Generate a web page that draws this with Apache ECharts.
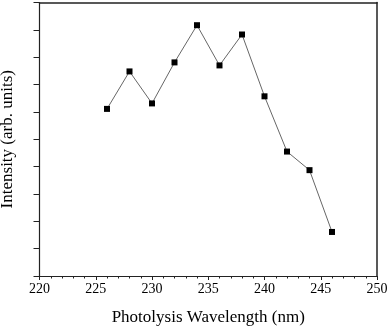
<!DOCTYPE html>
<html><head><meta charset="utf-8">
<script src="https://cdn.jsdelivr.net/npm/echarts@6/dist/echarts.min.js"></script>
<style>html,body{margin:0;padding:0;background:#fff}#c{width:390px;height:330px}</style>
</head><body><div id="c"></div>
<script>
var wavelengths = [226, 228, 230, 232, 234, 236, 238, 240, 242, 244, 246];
var intensity = [6.11, 7.48, 6.31, 7.81, 9.17, 7.70, 8.83, 6.57, 4.55, 3.87, 1.61];
var xTitle = 'Photolysis Wavelength (nm)';
var yTitle = 'Intensity (arb. units)';
var font = 'Liberation Serif';
var chart = echarts.init(document.getElementById('c'));
var frameLine = {show: true, onZero: false, lineStyle: {color: '#222', width: 1.5}};
chart.setOption({
  animation: false,
  grid: {left: 39.5, right: 13, top: 2.5, bottom: 54, containLabel: false, outerBoundsMode: 'none'},
  xAxis: [{
    type: 'value', min: 220, max: 250, interval: 5,
    name: xTitle, nameLocation: 'middle', nameGap: 33,
    nameTextStyle: {fontFamily: font, fontSize: 17, color: '#000'},
    axisLine: {onZero: false, lineStyle: {color: '#222', width: 1.2}},
    axisTick: {show: true, length: 4, lineStyle: {color: '#222'}},
    minorTick: {show: true, splitNumber: 5, length: 2.5, lineStyle: {color: '#222'}},
    axisLabel: {fontFamily: font, fontSize: 14, color: '#000', margin: 6},
    splitLine: {show: false}
  }, {
    type: 'value', min: 220, max: 250, interval: 5, position: 'top',
    axisLine: frameLine, axisTick: {show: false}, axisLabel: {show: false}, splitLine: {show: false}
  }],
  yAxis: [{
    type: 'value', min: 0, max: 10, interval: 1,
    name: yTitle, nameLocation: 'middle', nameGap: 23, nameRotate: 90,
    nameTextStyle: {fontFamily: font, fontSize: 17, color: '#000'},
    axisLine: {show: true, onZero: false, lineStyle: {color: '#222', width: 1.2}},
    axisTick: {show: true, length: 6, lineStyle: {color: '#222'}},
    axisLabel: {show: false},
    splitLine: {show: false}
  }, {
    type: 'value', min: 0, max: 10, interval: 1, position: 'right',
    axisLine: frameLine, axisTick: {show: false}, axisLabel: {show: false}, splitLine: {show: false}
  }],
  series: [{
    type: 'line',
    data: wavelengths.map(function (w, i) { return [w, intensity[i]]; }),
    symbol: 'rect', symbolSize: 6,
    itemStyle: {color: '#000'},
    lineStyle: {color: '#666', width: 1}
  }]
});
</script></body></html>
